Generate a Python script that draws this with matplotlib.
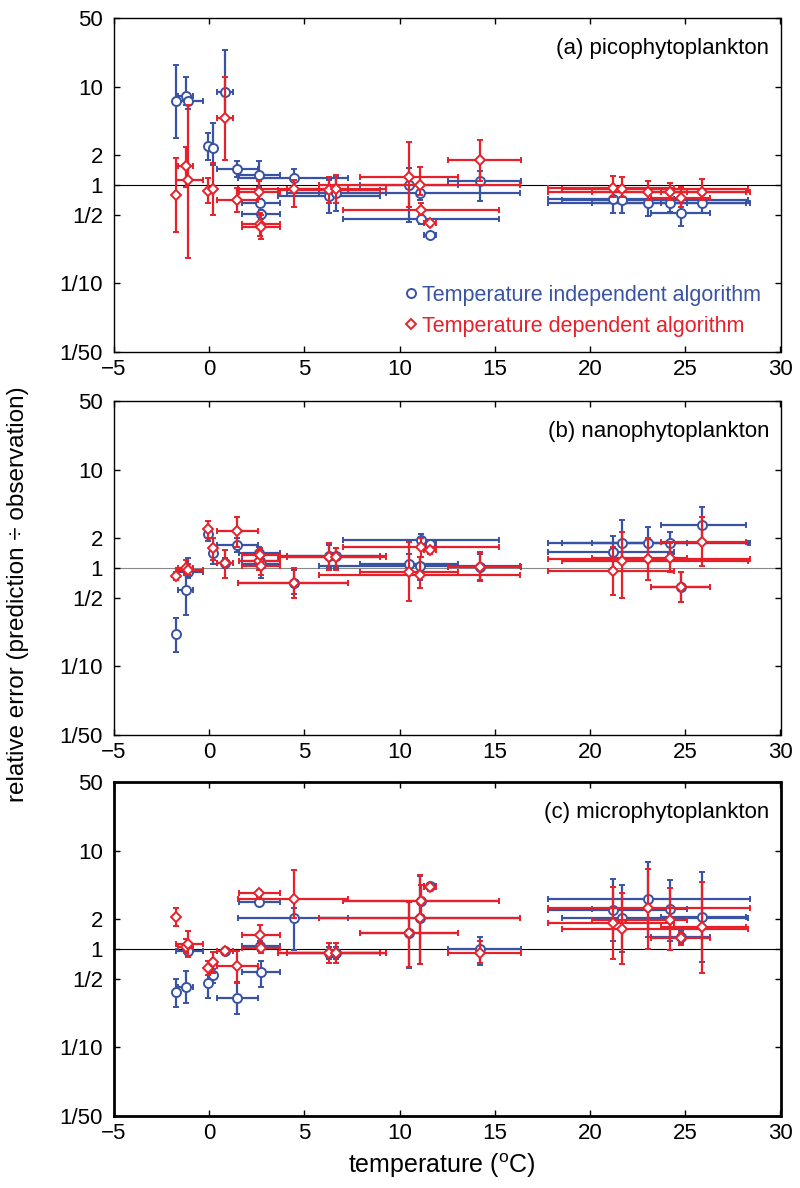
import matplotlib
matplotlib.use('Agg')
import matplotlib.pyplot as plt
import numpy as np
from matplotlib.ticker import NullLocator
from matplotlib.lines import Line2D

plt.rcParams['font.family'] = ['Liberation Sans', 'DejaVu Sans']

BLUE = '#3953a4'
RED = '#e8202a'

# ---- shared temperature positions and ranges (deg C) ----
temp = np.array([-1.74, -1.23, -1.10, -0.04, 0.18, 0.85, 1.46, 2.60, 2.65, 2.70, 4.44, 6.29,
                 6.66, 10.49, 11.07, 11.12, 11.60, 14.22, 21.19, 21.66, 23.03, 24.20, 24.76, 25.86])
temp_lo = np.array([-1.74, -1.64, -1.75, -0.04, 0.18, 0.43, 0.43, 1.55, 1.70, 1.70, 1.53, 3.63,
                    4.07, 7.92, 5.75, 7.00, 11.30, 12.56, 17.8, 18.5, 17.8, 20.1, 23.2, 23.7])
temp_hi = np.array([-1.74, -0.85, -0.35, -0.04, 0.18, 1.23, 2.58, 3.72, 3.72, 3.72, 7.30, 8.97,
                    9.27, 13.08, 16.32, 15.22, 11.90, 16.36, 24.4, 28.3, 28.4, 25.1, 26.3, 28.2])

# ---- (a) picophytoplankton ----
a_ind = [7.2, 8.0, 7.2, 2.49, 2.36, 8.77, 1.44, 1.27, 0.656, 0.503, 1.19, 0.767, 0.83, 1.0, 0.835,
         0.448, 0.31, 1.1, 0.716, 0.70, 0.66, 0.65, 0.515, 0.65]
a_ind_lo = [3.0, 6.5, 6.0, 1.8, 1.6, 5.0, 1.2, 0.95, 0.6, 0.45, 0.95, 0.52, 0.55, 0.42, 0.7, 0.4,
            0.29, 0.68, 0.52, 0.52, 0.48, 0.53, 0.38, 0.52]
a_ind_hi = [16.6, 12.6, 8.5, 3.4, 4.3, 23.6, 1.75, 1.75, 0.72, 0.56, 1.45, 1.12, 1.2, 1.5, 1.0, 0.5,
            0.33, 1.4, 0.85, 0.9, 0.82, 0.8, 0.65, 0.8]
a_dep = [0.79, 1.57, 1.12, 0.87, 0.90, 4.77, 0.70, 0.855, 0.40, 0.37, 0.91, 0.88, 0.90, 1.22, 1.0,
         0.557, 0.41, 1.8, 0.925, 0.91, 0.85, 0.85, 0.73, 0.85]
a_dep_lo = [0.335, 0.96, 0.18, 0.66, 0.495, 1.8, 0.53, 0.72, 0.30, 0.28, 0.6, 0.65, 0.65, 0.6, 0.8,
            0.5, 0.38, 1.1, 0.75, 0.75, 0.7, 0.7, 0.6, 0.7]
a_dep_hi = [1.87, 2.45, 6.5, 1.18, 1.67, 12.6, 0.93, 1.1, 0.52, 0.5, 1.12, 1.2, 1.25, 2.76, 1.53,
            0.65, 0.44, 2.87, 1.23, 1.2, 1.1, 1.05, 0.95, 1.15]

# ---- (b) nanophytoplankton ----
b_ind = [0.211, 0.593, 0.92, 2.2, 1.41, 1.12, 1.70, 1.41, 1.19, 1.10, 0.71, 1.33, 1.33, 1.10, 1.05,
         1.94, 1.75, 1.03, 1.47, 1.80, 1.78, 1.81, 0.646, 2.72]
b_ind_lo = [0.14, 0.33, 0.8, 1.9, 1.1, 1.0, 1.45, 1.2, 1.0, 0.8, 0.55, 1.0, 1.0, 0.9, 0.75, 1.6,
            1.6, 0.75, 1.0, 1.2, 1.3, 1.4, 0.45, 1.9]
b_ind_hi = [0.31, 1.03, 1.25, 2.5, 1.6, 1.25, 2.0, 1.65, 1.4, 1.3, 0.95, 1.7, 1.6, 1.4, 1.3, 2.2,
            1.9, 1.4, 2.13, 3.08, 2.59, 2.32, 0.91, 4.2]
b_dep = [0.82, 1.0, 0.95, 2.47, 1.59, 1.12, 2.36, 1.18, 1.35, 1.05, 0.71, 1.28, 1.28, 0.92, 0.85,
         1.65, 1.52, 1.03, 0.93, 1.19, 1.23, 1.25, 0.646, 1.85]
b_dep_lo = [0.75, 0.85, 0.85, 2.0, 1.2, 0.79, 1.65, 0.95, 1.1, 0.85, 0.5, 0.95, 0.95, 0.46, 0.62,
            1.3, 1.4, 0.73, 0.53, 0.5, 0.75, 0.9, 0.45, 1.05]
b_dep_hi = [0.9, 1.2, 1.1, 3.0, 2.0, 1.52, 3.28, 1.5, 1.6, 1.25, 1.0, 1.8, 1.6, 1.85, 1.3, 2.0,
            1.65, 1.44, 1.65, 2.3, 2.0, 1.8, 0.9, 3.28]

# ---- (c) microphytoplankton ----
c_ind = [0.365, 0.41, 0.96, 0.45, 0.54, 0.96, 0.32, 3.03, 1.08, 0.59, 2.05, 0.92, 0.92, 1.44, 2.05,
         3.08, 4.4, 1.0, 2.49, 2.05, 3.2, 2.53, 1.33, 2.13]
c_ind_lo = [0.26, 0.28, 0.85, 0.32, 0.45, 0.9, 0.22, 2.8, 0.95, 0.41, 0.98, 0.8, 0.8, 0.64, 0.7,
            2.0, 4.1, 0.69, 1.21, 0.94, 1.33, 1.2, 1.15, 0.73]
c_ind_hi = [0.49, 0.6, 1.05, 0.55, 0.62, 1.02, 0.46, 3.3, 1.2, 0.75, 2.6, 1.05, 1.05, 3.0, 5.5,
            4.5, 4.7, 1.32, 5.15, 4.47, 7.7, 5.03, 1.55, 6.1]
c_dep = [2.13, 1.05, 1.12, 0.64, 0.74, 0.96, 0.67, 3.68, 1.39, 1.03, 3.22, 0.92, 0.92, 1.44, 2.05,
         3.08, 4.24, 0.9, 1.85, 1.6, 2.6, 1.97, 1.30, 1.69]
c_dep_lo = [1.71, 0.9, 0.83, 0.55, 0.57, 0.9, 0.45, 3.4, 1.05, 0.9, 2.05, 0.72, 0.72, 0.66, 0.71,
            2.0, 3.9, 0.72, 0.79, 0.70, 1.0, 0.97, 1.1, 0.57]
c_dep_hi = [2.6, 1.25, 1.52, 0.75, 0.94, 1.02, 0.95, 4.0, 1.75, 1.15, 6.4, 1.15, 1.15, 3.0, 5.65,
            4.5, 4.6, 1.2, 4.24, 3.68, 6.5, 4.2, 1.5, 4.84]

panel_titles = ['(a) picophytoplankton', '(b) nanophytoplankton', '(c) microphytoplankton']
ytick_vals = [1/50, 1/10, 1/2, 1, 2, 10, 50]
ytick_labels = ['1/50', '1/10', '1/2', '1', '2', '10', '50']
xtick_vals = [-5, 0, 5, 10, 15, 20, 25, 30]
legend_labels = ['Temperature independent algorithm', 'Temperature dependent algorithm']

panels = [
    (a_ind, a_ind_lo, a_ind_hi, a_dep, a_dep_lo, a_dep_hi),
    (b_ind, b_ind_lo, b_ind_hi, b_dep, b_dep_lo, b_dep_hi),
    (c_ind, c_ind_lo, c_ind_hi, c_dep, c_dep_lo, c_dep_hi),
]

fig = plt.figure(figsize=(8, 11.88), dpi=100)
W, H = 800.0, 1188.0
left, right = 114, 780.5
tops = [18, 401, 782]
ph = 334
one_colors = ['black', '#888888', 'black']
spine_w = [1.0, 1.0, 2.0]

xerr = [temp - temp_lo, temp_hi - temp]

for i, (yi, yil, yih, yd, ydl, ydh) in enumerate(panels):
    top = tops[i]
    ax = fig.add_axes([left / W, 1 - (top + ph) / H, (right - left) / W, ph / H])
    ax.axhline(1, color=one_colors[i], lw=0.8, zorder=1)
    yi = np.array(yi); yd = np.array(yd)
    ax.errorbar(temp, yi, xerr=xerr, yerr=[yi - np.array(yil), np.array(yih) - yi],
                fmt='o', color=BLUE, mfc='white', mec=BLUE, ms=6.5, mew=1.4,
                elinewidth=1.6, capsize=2, capthick=1.3, zorder=2)
    ax.errorbar(temp, yd, xerr=xerr, yerr=[yd - np.array(ydl), np.array(ydh) - yd],
                fmt='D', color=RED, mfc='white', mec=RED, ms=5, mew=1.4,
                elinewidth=1.6, capsize=2, capthick=1.3, zorder=3)
    ax.set_xlim(-5, 30)
    ax.set_yscale('log')
    ax.set_ylim(1/50, 50)
    ax.set_yticks(ytick_vals)
    ax.set_yticklabels(ytick_labels)
    ax.yaxis.set_minor_locator(NullLocator())
    ax.set_xticks(xtick_vals)
    ax.tick_params(direction='in', top=True, right=True, length=4, width=1,
                   labelsize=16, pad=5)
    ax.tick_params(axis='y', pad=8)
    for s in ax.spines.values():
        s.set_linewidth(spine_w[i])
    ax.text(0.983, 0.91, panel_titles[i], transform=ax.transAxes, ha='right',
            va='center', fontsize=16)
    if i == 0:
        handles = [Line2D([], [], marker='o', ls='none', mfc='white', mec=BLUE, ms=6.5, mew=1.4),
                   Line2D([], [], marker='D', ls='none', mfc='white', mec=RED, ms=5, mew=1.4)]
        ax.legend(handles, legend_labels, loc='lower right', bbox_to_anchor=(0.984, 0.02),
                  frameon=False, fontsize=15.5, labelcolor=[BLUE, RED],
                  handletextpad=0.15, handlelength=0.7, borderaxespad=0, labelspacing=0.45)

fig.text(18 / W, 0.5, 'relative error (prediction \u00f7 observation)', rotation=90,
         ha='center', va='center', fontsize=17.5)
fig.text(442 / W, 1 - 1166 / H, 'temperature ($^\\mathregular{o}$C)', ha='center',
         va='center', fontsize=18)

fig.savefig('out.png', dpi=100)
